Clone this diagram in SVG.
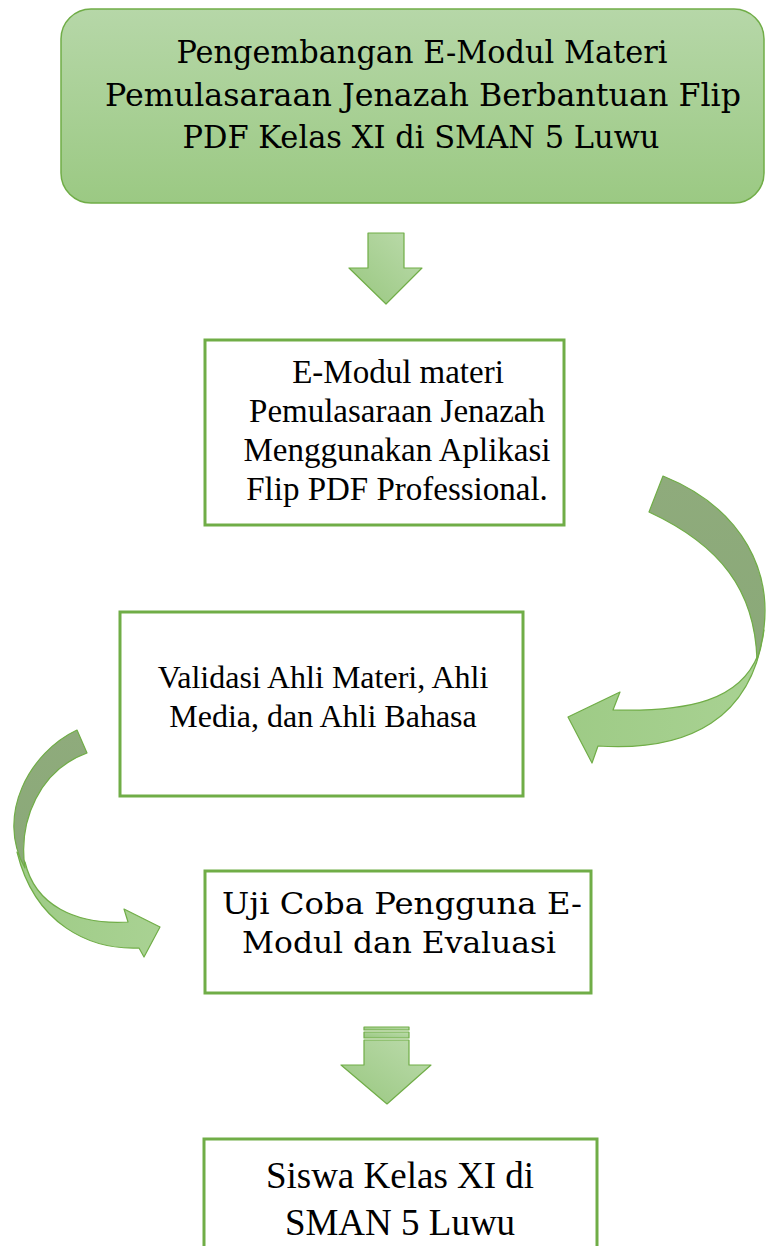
<svg xmlns="http://www.w3.org/2000/svg" width="766" height="1246" viewBox="0 0 766 1246">
<defs>
<linearGradient id="gTop" x1="0" y1="0" x2="0" y2="1">
<stop offset="0" stop-color="#b6d7a8"/>
<stop offset="1" stop-color="#9bc983"/>
</linearGradient>
<linearGradient id="gArrow" x1="1" y1="0" x2="0" y2="1">
<stop offset="0" stop-color="#bcdbac"/>
<stop offset="1" stop-color="#98c77f"/>
</linearGradient>
<linearGradient id="gDark" x1="0" y1="0" x2="0" y2="1">
<stop offset="0" stop-color="#8fab7c"/>
<stop offset="1" stop-color="#8aa978"/>
</linearGradient>
<linearGradient id="gLight" x1="0" y1="0" x2="1" y2="0">
<stop offset="0" stop-color="#9ecb86"/>
<stop offset="1" stop-color="#a9d293"/>
</linearGradient>
<style>
.box{fill:#ffffff;stroke:#70ad47;stroke-width:3}
.arr{stroke:#70ad47;stroke-width:1.2;stroke-linejoin:round}
.tr{font-family:"Liberation Serif","Times New Roman",serif;font-size:32px;fill:#000;text-anchor:middle}
.tr33{font-size:33px}
.tr37{font-size:37px}
.bk{font-family:"DejaVu Serif","Bookman Old Style",serif;fill:#000;text-anchor:middle}
.bk32{font-size:32px}
.bk30{font-size:30px}
</style>
</defs>

<g id="connectors">
<path class="arr" fill="url(#gArrow)" d="M368,233 L404,233 L404,268 L422,268 L386,304 L349,268 L368,268 Z"/>
<g id="curveRight">
<path class="arr" fill="url(#gLight)" d="M758,655 C740,700 690,712 613,710 L620,692 L568,717 L592,763 L598,746 C690,752 752,718 764,630 Z"/>
<path class="arr" fill="url(#gDark)" d="M663,476 C735,505 785,570 757,660 C755,590 720,545 649,512 Z"/>
</g>
<g id="curveLeft">
<path class="arr" fill="url(#gLight)" d="M25,862 C35,905 75,925 128,922 L124,909 L160,927 L144,957 L139,948 C90,950 35,925 17,852 Z"/>
<path class="arr" fill="url(#gDark)" d="M77,730 C30,752 -5,815 25,868 C18,820 40,770 87,753 Z"/>
</g>
<g id="stripedArrow">
<rect class="arr" fill="url(#gArrow)" x="364" y="1027" width="45" height="3"/>
<rect class="arr" fill="url(#gArrow)" x="364" y="1032" width="45" height="6"/>
<path class="arr" fill="url(#gArrow)" d="M364,1040 L409,1040 L409,1065 L431,1065 L387,1104 L341,1065 L364,1065 Z"/>
</g>
</g>

<g id="node-top">
<rect x="61" y="9" width="703" height="194" rx="30" ry="30" fill="url(#gTop)" stroke="#70ad47" stroke-width="1.5"/>
<text class="bk bk32" x="422" y="63" textLength="491" lengthAdjust="spacingAndGlyphs">Pengembangan E-Modul Materi</text>
<text class="bk bk32" x="423" y="106" textLength="636" lengthAdjust="spacingAndGlyphs">Pemulasaraan Jenazah Berbantuan Flip</text>
<text class="bk bk32" x="421" y="148" textLength="477" lengthAdjust="spacingAndGlyphs">PDF Kelas XI di SMAN 5 Luwu</text>
</g>

<g id="node-emodul">
<rect class="box" x="205" y="340" width="359" height="185"/>
<text class="tr tr33" x="398" y="383">E-Modul materi</text>
<text class="tr tr33" x="397" y="422">Pemulasaraan Jenazah</text>
<text class="tr tr33" x="397" y="461">Menggunakan Aplikasi</text>
<text class="tr tr33" x="397" y="500">Flip PDF Professional.</text>
</g>

<g id="node-validasi">
<rect class="box" x="120" y="612" width="403" height="184"/>
<text class="tr" x="323" y="688">Validasi Ahli Materi, Ahli</text>
<text class="tr" x="323" y="727">Media, dan Ahli Bahasa</text>
</g>

<g id="node-uji">
<rect class="box" x="205" y="871" width="386" height="122"/>
<text class="bk bk30" x="402" y="914" textLength="360" lengthAdjust="spacingAndGlyphs">Uji Coba Pengguna E-</text>
<text class="bk bk30" x="399" y="953" textLength="314" lengthAdjust="spacingAndGlyphs">Modul dan Evaluasi</text>
</g>

<g id="node-siswa">
<rect class="box" x="204" y="1139" width="393" height="120"/>
<text class="tr tr37" x="400" y="1188">Siswa Kelas XI di</text>
<text class="tr tr37" x="400" y="1235">SMAN 5 Luwu</text>
</g>
</svg>
